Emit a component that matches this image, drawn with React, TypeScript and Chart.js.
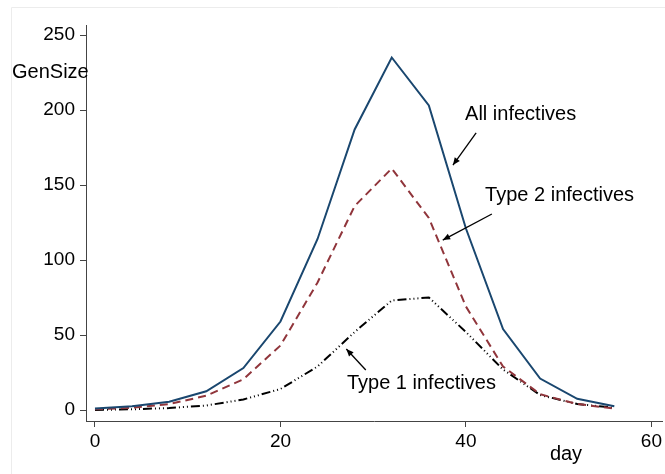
import React, { useEffect, useRef } from "react";
import { Chart, registerables } from "chart.js";

Chart.register(...registerables);

const days = [0, 4, 8, 12, 16, 20, 24, 28, 32, 36, 40, 44, 48, 52, 56];
const allInfectives = [1, 2.5, 5.5, 12.5, 28, 59, 114, 187, 235, 203, 121, 54, 21, 7.5, 2.5];
const type2Infectives = [0.5, 1.5, 4, 9.5, 20.5, 43, 85, 136, 161, 128, 69, 29, 10.5, 4, 1];
const type1Infectives = [0, 0.5, 1.3, 3, 7, 14, 29, 52, 73, 75, 52, 27, 10, 4, 1.5];

const xTicks = [0, 20, 40, 60];
const yTicks = [0, 50, 100, 150, 200, 250];

const annotationLabels = ["All infectives", "Type 2 infectives", "Type 1 infectives"];
const annotationTextX = [45.9, 50.1, 35.2];
const annotationTextY = [197.3, 142.7, 18];
const arrowFromX = [41.1, 42.8, 29.2];
const arrowFromY = [184.7, 130.7, 26.7];
const arrowToX = [38.6, 37.5, 27.1];
const arrowToY = [163.3, 113.3, 40.7];

const FONT = "'Liberation Sans', Arial, Helvetica, sans-serif";

const overlayPlugin = {
  id: "overlay",
  beforeDraw(chart: any) {
    const ctx = chart.ctx;
    ctx.save();
    ctx.fillStyle = "#ffffff";
    ctx.fillRect(0, 0, chart.width, chart.height);
    ctx.strokeStyle = "#ececec";
    ctx.lineWidth = 1;
    ctx.beginPath();
    ctx.moveTo(11.5, chart.height);
    ctx.lineTo(11.5, 7.5);
    ctx.lineTo(chart.width, 7.5);
    ctx.stroke();
    ctx.restore();
  },
  afterDraw(chart: any) {
    const ctx = chart.ctx;
    const xs = chart.scales.x;
    const ys = chart.scales.y;
    ctx.save();
    ctx.fillStyle = "#000";
    ctx.font = `20px ${FONT}`;
    ctx.textBaseline = "middle";
    ctx.textAlign = "left";
    ctx.fillText("GenSize", 12, 72);
    ctx.textAlign = "center";
    ctx.fillText("day", 566, 454);

    for (let i = 0; i < annotationLabels.length; i++) {
      ctx.fillText(
        annotationLabels[i],
        xs.getPixelForValue(annotationTextX[i]),
        ys.getPixelForValue(annotationTextY[i])
      );
      const x1 = xs.getPixelForValue(arrowFromX[i]);
      const y1 = ys.getPixelForValue(arrowFromY[i]);
      const x2 = xs.getPixelForValue(arrowToX[i]);
      const y2 = ys.getPixelForValue(arrowToY[i]);
      ctx.strokeStyle = "#000";
      ctx.lineWidth = 1.3;
      ctx.beginPath();
      ctx.moveTo(x1, y1);
      ctx.lineTo(x2, y2);
      ctx.stroke();
      const ang = Math.atan2(y2 - y1, x2 - x1);
      const len = 8;
      const wid = 0.4;
      ctx.beginPath();
      ctx.moveTo(x2, y2);
      ctx.lineTo(x2 - len * Math.cos(ang - wid), y2 - len * Math.sin(ang - wid));
      ctx.lineTo(x2 - len * Math.cos(ang + wid), y2 - len * Math.sin(ang + wid));
      ctx.closePath();
      ctx.fill();
    }
    ctx.restore();
  },
};

export default function App() {
  const ref = useRef<HTMLCanvasElement>(null);

  useEffect(() => {
    if (!ref.current) return;
    const mk = (arr: number[]) => days.map((d, i) => ({ x: d, y: arr[i] }));
    const chart = new Chart(ref.current, {
      type: "line",
      data: {
        datasets: [
          {
            label: "All infectives",
            data: mk(allInfectives),
            borderColor: "#1a476f",
            borderWidth: 2,
            pointRadius: 0,
            tension: 0,
            fill: false,
          },
          {
            label: "Type 2 infectives",
            data: mk(type2Infectives),
            borderColor: "#90353b",
            borderWidth: 2,
            borderDash: [8, 5],
            pointRadius: 0,
            tension: 0,
            fill: false,
          },
          {
            label: "Type 1 infectives",
            data: mk(type1Infectives),
            borderColor: "#000000",
            borderWidth: 2,
            borderDash: [9, 3, 1, 3, 1, 3, 1, 3],
            pointRadius: 0,
            tension: 0,
            fill: false,
          },
        ],
      },
      options: {
        animation: false,
        responsive: false,
        devicePixelRatio: 1,
        layout: { padding: { top: 25, right: 1, left: 0, bottom: 0 } },
        plugins: {
          legend: { display: false },
          tooltip: { enabled: false },
        },
        scales: {
          x: {
            type: "linear",
            min: -0.968,
            max: 61.18,
            afterBuildTicks: (s: any) => {
              s.ticks = xTicks.map((v) => ({ value: v }));
            },
            afterFit: (s: any) => {
              s.height = 53;
            },
            ticks: {
              color: "#000",
              font: { size: 19, family: FONT },
              padding: 3,
              maxRotation: 0,
              autoSkip: false,
              callback: (v: any) => String(v),
            },
            grid: {
              display: true,
              drawOnChartArea: false,
              drawTicks: true,
              tickLength: 6,
              color: "#444",
            },
            border: { display: true, color: "#444", width: 1 },
          },
          y: {
            type: "linear",
            min: -7.33,
            max: 256.67,
            afterBuildTicks: (s: any) => {
              s.ticks = yTicks.map((v) => ({ value: v }));
            },
            afterFit: (s: any) => {
              s.width = 86;
            },
            ticks: {
              color: "#000",
              font: { size: 19, family: FONT },
              padding: 5,
              autoSkip: false,
              callback: (v: any) => String(v),
            },
            grid: {
              display: true,
              drawOnChartArea: false,
              drawTicks: true,
              tickLength: 6,
              color: "#444",
            },
            border: { display: true, color: "#444", width: 1 },
          },
        },
      },
      plugins: [overlayPlugin],
    });
    return () => chart.destroy();
  }, []);

  return (
    <div style={{ position: "absolute", left: 0, top: 0, width: 665, height: 474, background: "#fff" }}>
      <canvas ref={ref} width={665} height={474} style={{ display: "block" }} />
    </div>
  );
}
